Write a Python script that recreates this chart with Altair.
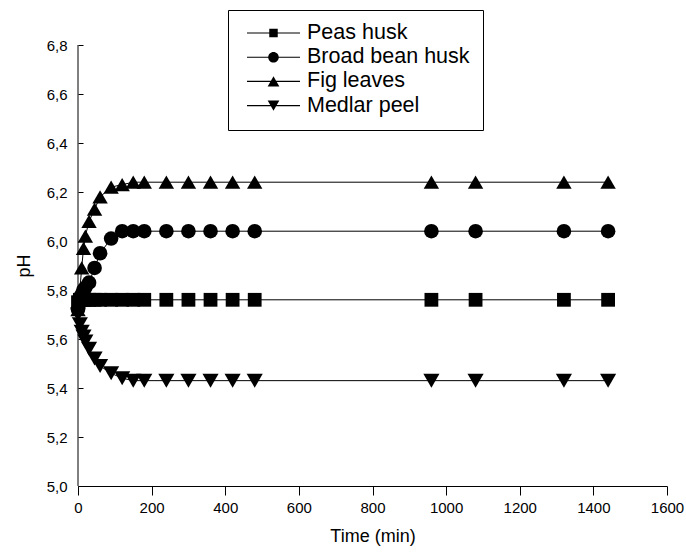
import altair as alt
import pandas as pd

# ---- data ----
times = [0, 5, 10, 15, 20, 30, 45, 60, 90, 120, 150, 180,
         240, 300, 360, 420, 480, 960, 1080, 1320, 1440]
series_names = ["Peas husk", "Broad bean husk", "Fig leaves", "Medlar peel"]
peas_husk = [5.75, 5.76, 5.76, 5.76, 5.76, 5.76, 5.76, 5.76, 5.76, 5.76, 5.76,
             5.76, 5.76, 5.76, 5.76, 5.76, 5.76, 5.76, 5.76, 5.76, 5.76]
broad_bean_husk = [5.72, 5.75, 5.77, 5.80, 5.81, 5.83, 5.89, 5.95, 6.01, 6.04, 6.04,
                   6.04, 6.04, 6.04, 6.04, 6.04, 6.04, 6.04, 6.04, 6.04, 6.04]
fig_leaves = [5.72, 5.80, 5.89, 5.97, 6.02, 6.08, 6.13, 6.18, 6.22, 6.23, 6.24,
              6.24, 6.24, 6.24, 6.24, 6.24, 6.24, 6.24, 6.24, 6.24, 6.24]
medlar_peel = [5.70, 5.66, 5.63, 5.61, 5.59, 5.56, 5.52, 5.49, 5.46, 5.44, 5.43,
               5.43, 5.43, 5.43, 5.43, 5.43, 5.43, 5.43, 5.43, 5.43, 5.43]
shapes = ["square", "circle", "triangle-up", "triangle-down"]
marker_sizes = [190, 260, 350, 350]
# legend symbols: a horizontal line sample with the marker in its middle
# (unit-box SVG paths, scaled by the legend symbol size)
legend_shapes = [
    "M-1,-0.02L1,-0.02L1,0.02L-1,0.02Z M-0.16,-0.16L0.16,-0.16L0.16,0.16L-0.16,0.16Z",
    "M-1,-0.02L1,-0.02L1,0.02L-1,0.02Z M-0.2,0A0.2,0.2 0 1,1 0.2,0A0.2,0.2 0 1,1 -0.2,0Z",
    "M-1,-0.02L1,-0.02L1,0.02L-1,0.02Z M0,-0.19L0.22,0.19L-0.22,0.19Z",
    "M-1,-0.02L1,-0.02L1,0.02L-1,0.02Z M0,0.19L-0.22,-0.19L0.22,-0.19Z",
]
x_tick_values = [0, 100, 200, 300, 400, 500, 600, 700, 800, 900, 1000,
                 1100, 1200, 1300, 1400, 1500, 1600]
y_tick_values = [5.0, 5.1, 5.2, 5.3, 5.4, 5.5, 5.6, 5.7, 5.8, 5.9, 6.0,
                 6.1, 6.2, 6.3, 6.4, 6.5, 6.6, 6.7, 6.8]

rows = []
for name, vals in zip(series_names, [peas_husk, broad_bean_husk, fig_leaves, medlar_peel]):
    for t, v in zip(times, vals):
        rows.append({"time": t, "pH": v, "series": name})
df = pd.DataFrame(rows)

FONT = "Liberation Sans"

x_enc = alt.X(
    "time:Q",
    scale=alt.Scale(domain=[0, 1600], nice=False, zero=False),
    axis=alt.Axis(
        values=x_tick_values,
        format="d",
        labelExpr="datum.value % 200 === 0 ? datum.label : ''",
        title="Time (min)",
        titleFontWeight="normal",
        grid=False,
        tickSize={"condition": {"test": "datum.value % 200 === 0", "value": 9}, "value": 5},
        labelPadding=5,
        titlePadding=12,
        labelFlush=False,
        labelOverlap=False,
    ),
)
y_enc = alt.Y(
    "pH:Q",
    scale=alt.Scale(domain=[5.0, 6.8], nice=False, zero=False),
    axis=alt.Axis(
        values=y_tick_values,
        labelExpr="round(datum.value * 10) % 2 === 0 ? replace(format(datum.value, '.1f'), '.', ',') : ''",
        title="pH",
        titleFontWeight="normal",
        grid=False,
        domain=False,
        offset=-5,
        tickSize=5,
        labelPadding=11,
        titlePadding=13,
        labelFlush=False,
        labelOverlap=False,
    ),
)

lines = alt.Chart(df).mark_line(strokeWidth=1, color="black").encode(
    x=x_enc,
    y=y_enc,
    detail="series:N",
    order="time:Q",
)

points = alt.Chart(df).mark_point(filled=True, opacity=1, color="black").encode(
    x=alt.X("time:Q"),
    y=alt.Y("pH:Q"),
    shape=alt.Shape("series:N", scale=alt.Scale(domain=series_names, range=shapes), legend=None),
    size=alt.Size("series:N", scale=alt.Scale(domain=series_names, range=marker_sizes), legend=None),
)

# legend-only layer (no rows drawn; entries come from the explicit domain)
legend_layer = alt.Chart(df).transform_filter("false").mark_point(
    filled=True, opacity=1, color="black"
).encode(
    x=alt.X("time:Q"),
    y=alt.Y("pH:Q"),
    shape=alt.Shape(
        "series:N",
        scale=alt.Scale(domain=series_names, range=legend_shapes),
        legend=alt.Legend(
            title=None,
            orient="none",
            legendX=150,
            legendY=-35,
            padding=13,
            strokeColor="black",
            symbolSize=2809,
            symbolFillColor="black",
            symbolStrokeWidth=0,
            symbolOffset=6,
            labelOffset=7,
            labelFontSize=21.5,
            labelFont=FONT,
            labelColor="black",
            labelLimit=400,
            clipHeight=20,
            rowPadding=2.2,
        ),
    ),
)

left_line = alt.Chart(df).mark_rule(color="black", strokeWidth=1).encode(
    x=alt.X("min(time):Q")
)

chart = alt.layer(lines, points, legend_layer, left_line).resolve_scale(
    shape="independent"
).properties(
    width=589,
    height=441,
    padding={"left": 78, "top": 45, "right": 19, "bottom": 70},
    autosize=alt.AutoSizeParams(type="none"),
    background="white",
).configure_view(stroke=None).configure_axis(
    labelFont=FONT,
    titleFont=FONT,
    labelFontSize=15,
    titleFontSize=18,
    titleFontWeight="normal",
    labelColor="black",
    titleColor="black",
    domainColor="black",
    tickColor="black",
    domainWidth=1,
    tickWidth=1,
)

chart.save("out.html", embed_options={"renderer": "svg", "actions": False})
